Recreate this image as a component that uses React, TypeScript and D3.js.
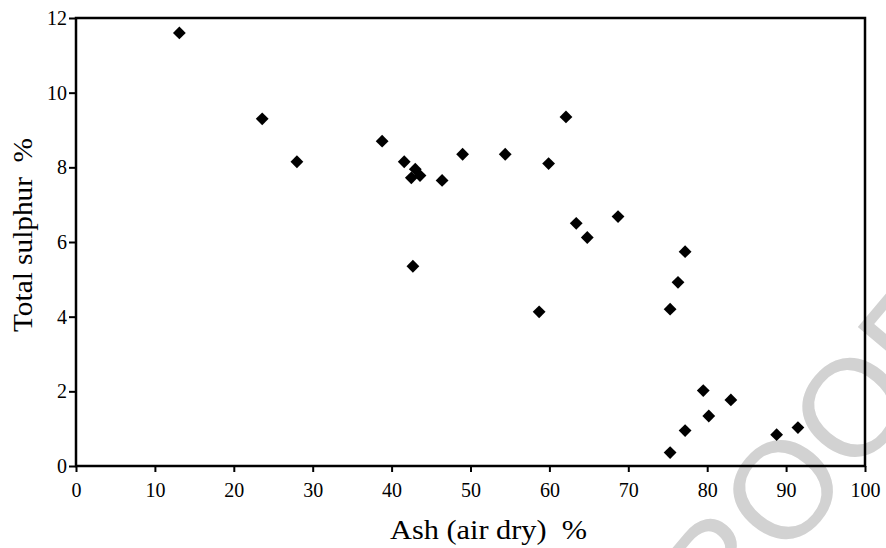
import { useEffect, useRef } from 'react';
import * as d3 from 'd3';

const width = 886;
const height = 548;
const [mt, mr, mb, ml] = [18, 21, 82, 76];
const graphWidth = width - ml - mr;
const graphHeight = height - mt - mb;

// ash (air dry) %, total sulphur %
const ash = [
    13.1, 23.6, 28.0, 38.8, 41.6, 42.5, 43.0, 43.6, 46.4, 49.0, 54.4, 62.1, 59.9, 63.4, 64.8, 68.7, 42.7, 58.7,
    77.2, 76.3, 75.3, 79.5, 83.0, 80.2, 77.2, 75.3, 88.8, 91.5
];
const sulphur = [
    11.6, 9.3, 8.15, 8.7, 8.15, 7.72, 7.95, 7.78, 7.65, 8.35, 8.35, 9.35, 8.1, 6.5, 6.12, 6.68, 5.35, 4.13,
    5.74, 4.92, 4.2, 2.02, 1.77, 1.34, 0.95, 0.36, 0.84, 1.03
];
const xTicks = [0, 10, 20, 30, 40, 50, 60, 70, 80, 90, 100];
const yTicks = [0, 2, 4, 6, 8, 10, 12];

export default function App() {
    const chart = useRef<HTMLDivElement>(null);

    useEffect(() => {
        // no page margin, no scrollbars
        document.body.style.margin = '0';
        document.documentElement.style.overflow = 'hidden';

        const root = d3.select(chart.current);
        root.selectAll('*').remove();

        const svg = root
            .append('svg')
            .attr('width', width)
            .attr('height', height)
            .attr('viewBox', [0, 0, width, height])
            .style('display', 'block')
            .style('background', '#fff');

        // grey PROOF watermark behind everything
        svg.append('text')
            .attr('transform', 'translate(662,708) rotate(-50)')
            .attr('font-family', 'Liberation Sans, sans-serif')
            .attr('font-size', 138)
            .attr('fill', '#d2d2d2')
            .text('PROOF');

        const x = d3.scaleLinear().domain([0, 100]).range([0, graphWidth]);
        const y = d3.scaleLinear().domain([0, 12]).range([graphHeight, 0]);

        const graph = svg.append('g').attr('transform', `translate(${ml}, ${mt})`);

        const xAxis = d3
            .axisBottom(x)
            .tickValues(xTicks)
            .tickSize(6)
            .tickPadding(11)
            .tickSizeOuter(0)
            .tickFormat(d3.format('d'));
        const yAxis = d3
            .axisLeft(y)
            .tickValues(yTicks)
            .tickSize(7)
            .tickPadding(2)
            .tickSizeOuter(0)
            .tickFormat(d3.format('d'));

        graph
            .append('g')
            .attr('transform', `translate(0, ${graphHeight})`)
            .call(xAxis)
            .call((g) => g.select('.domain').remove())
            .call((g) => g.selectAll('.tick line').attr('stroke', '#000').attr('stroke-width', 2))
            .call((g) =>
                g
                    .selectAll('.tick text')
                    .attr('fill', '#000')
                    .attr('font-family', 'Liberation Serif, serif')
                    .attr('font-size', 20)
            );

        graph
            .append('g')
            .call(yAxis)
            .call((g) => g.select('.domain').remove())
            .call((g) => g.selectAll('.tick line').attr('stroke', '#000').attr('stroke-width', 2))
            .call((g) =>
                g
                    .selectAll('.tick text')
                    .attr('fill', '#000')
                    .attr('font-family', 'Liberation Serif, serif')
                    .attr('font-size', 20)
            );

        // plot frame
        graph
            .append('rect')
            .attr('x', 0)
            .attr('y', 0)
            .attr('width', graphWidth)
            .attr('height', graphHeight)
            .attr('fill', 'none')
            .attr('stroke', '#000')
            .attr('stroke-width', 2.5);

        // diamond markers
        const diamond = d3.symbol(d3.symbolSquare, 82);
        graph
            .append('g')
            .selectAll('path')
            .data(d3.range(ash.length))
            .join('path')
            .attr('transform', (i) => `translate(${x(ash[i])}, ${y(sulphur[i])}) rotate(45)`)
            .attr('d', diamond)
            .attr('fill', '#000');

        // axis titles
        svg.append('text')
            .attr('x', 390)
            .attr('y', 539)
            .attr('font-family', 'Liberation Serif, serif')
            .attr('font-size', 27)
            .attr('textLength', 197)
            .attr('lengthAdjust', 'spacingAndGlyphs')
            .style('white-space', 'pre')
            .text('Ash (air dry)  %');

        svg.append('text')
            .attr('transform', 'translate(32, 332) rotate(-90)')
            .attr('font-family', 'Liberation Serif, serif')
            .attr('font-size', 27)
            .attr('textLength', 194)
            .attr('lengthAdjust', 'spacingAndGlyphs')
            .style('white-space', 'pre')
            .text('Total sulphur  %');
    }, []);

    return <div ref={chart} style={{ position: 'absolute', left: 0, top: 0 }} />;
}
